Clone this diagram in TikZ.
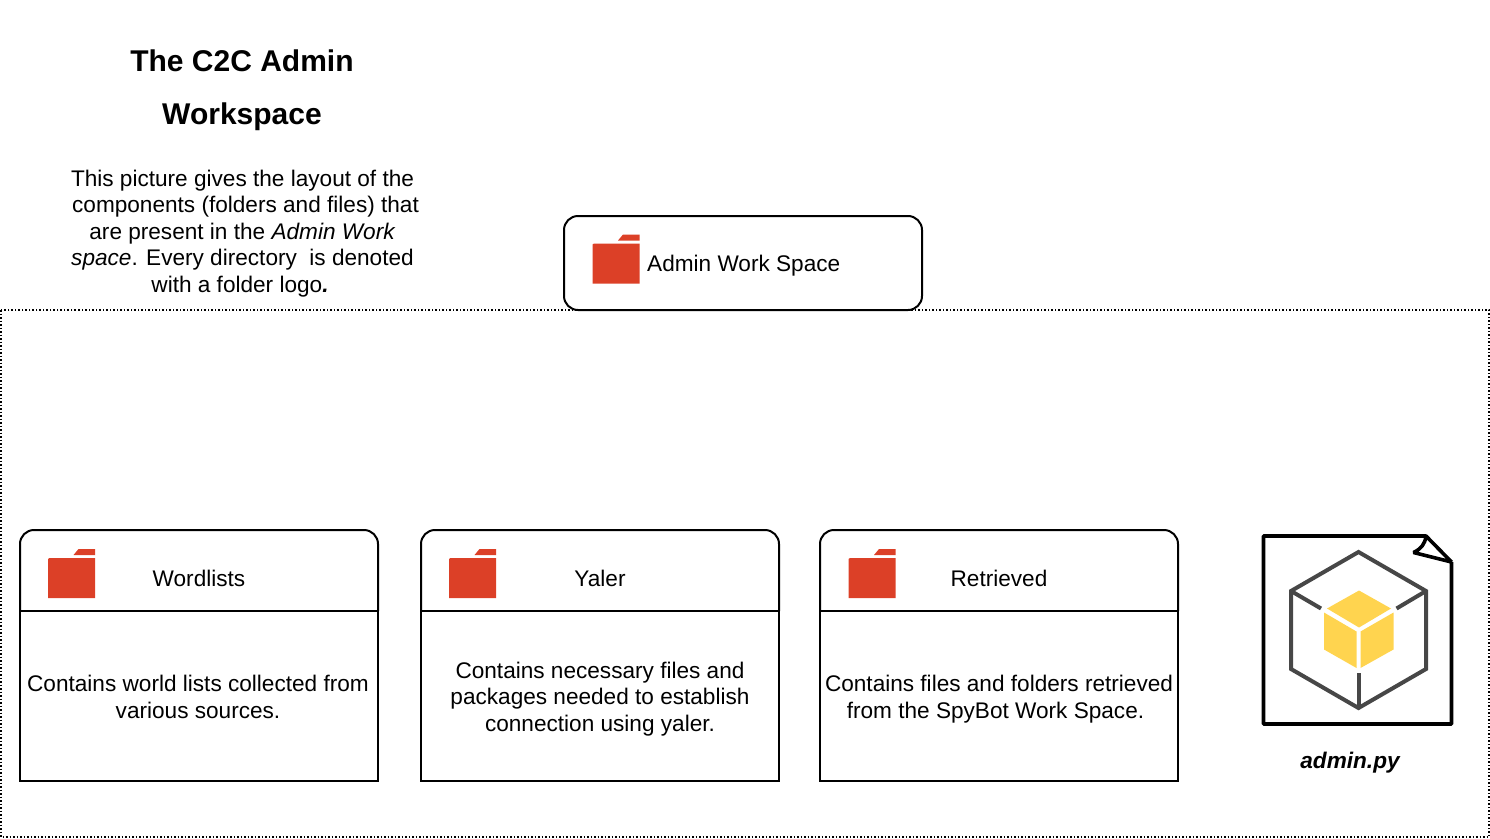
\documentclass[tikz,border=0pt]{standalone}
\usepackage{fontspec}
\setmainfont{Liberation Sans}
\usetikzlibrary{positioning}
\definecolor{fldred}{HTML}{DC4027}
\definecolor{cubegray}{HTML}{474747}
\definecolor{cubeyellow}{HTML}{FFD44F}
\tikzset{
  folder/.pic={
    \fill[fldred] (25.5,6) -- (30.5,0) -- (47,0) -- (47,6) -- cycle;
    \fill[fldred] (0,10) -- (1.5,9) -- (47,9) -- (47,49) -- (0,49) -- cycle;
  }
}
\begin{document}
\begin{tikzpicture}[x=1pt,y=-1pt,
    txt/.style={align=center,inner sep=0pt,font=\fontsize{22.6}{26.4}\selectfont},
    head/.style={txt,outer sep=0pt,minimum width=358pt,minimum height=81pt,text height=31pt,text depth=0pt},
    body/.style={draw,line width=2pt,outer sep=0pt,minimum width=358pt,minimum height=170pt,anchor=north west},
    lane/.style={draw,line width=2pt,rounded corners=14pt},
    cube/.style={draw=cubegray,line width=4pt,line join=miter},
    title/.style={inner sep=0pt,font=\fontsize{30}{36}\selectfont\bfseries}]
  \useasboundingbox (0,0) rectangle (1490,838);
  \node[title] (ttl1) at (242,61) {The C2C Admin};
  \node[title] (ttl2) at (242,117) {Workspace};
  \node[txt] (intro) at (242.5,233.5) {This picture gives the layout of the\\
    \hspace{6pt}components (folders and files) that\\
    are present in the \textit{Admin Work}\\
    {\itshape space}. Every directory\ \ is denoted\\
    with a folder logo\textbf{\textit{.}}\hspace*{5pt}};
  % outer work space
  \draw[line width=1.5pt,dotted] (1,310) rectangle (1489,837);
  \node[draw,fill=white,line width=2pt,outer sep=0pt,rounded corners=14pt,minimum width=358pt,minimum height=94pt,anchor=north west] (admin) at (564,216) {};
  \pic at (592.5,234.5) {folder};
  \node[txt,anchor=west] (adminlbl) at (647,266) {Admin Work Space};
  % folders
  \node[body] (wlbody) at (20,611) {};
  \node[txt] (wltext) at ([yshift=-1pt]wlbody) {Contains world lists collected from\hspace*{2pt}\\various sources.\hspace*{2pt}};
  \node[head,above=0pt of wlbody] (wlhead) {Wordlists};
  \draw[lane] (wlbody.north west) |- (wlhead.north) -| (wlbody.north east);
  \pic at (48,549) {folder};
  \node[body] (yabody) at (421,611) {};
  \node[txt] (yatext) at ([yshift=-3pt]yabody) {Contains necessary files and\\packages needed to establish\\connection using yaler.};
  \node[head,above=0pt of yabody] (yahead) {Yaler};
  \draw[lane] (yabody.north west) |- (yahead.north) -| (yabody.north east);
  \pic at (449,549) {folder};
  \node[body] (rtbody) at (820,611) {};
  \node[txt] (rttext) at ([yshift=-3pt]rtbody) {Contains files and folders retrieved\\from the SpyBot Work Space.\hspace*{7pt}};
  \node[head,above=0pt of rtbody] (rthead) {Retrieved};
  \draw[lane] (rtbody.north west) |- (rthead.north) -| (rtbody.north east);
  \pic at (848.5,549) {folder};
  % python file
  \draw[line width=3.6pt,line join=bevel] (1451.5,562) -- (1451.5,724) -- (1263.5,724) -- (1263.5,536) -- (1426,536) -- (1451.5,562)
    -- (1413.5,552.5) .. controls (1421,549) and (1425,544) .. (1426,536);
  \draw[cube] (1358.5,552) -- (1426,591) -- (1426,669) -- (1358.5,708) -- (1291,669) -- (1291,591) -- cycle;
  \draw[cube] (1291,591) -- (1321,608.5);
  \draw[cube] (1426,591) -- (1396.5,608.5);
  \draw[cube] (1358.5,708) -- (1358.5,673);
  \fill[cubeyellow] (1359,590.5) -- (1391,608.5) -- (1359,627.5) -- (1327,608.5) -- cycle;
  \fill[cubeyellow] (1324,612.5) -- (1356.5,631.5) -- (1356.5,668) -- (1324,649.5) -- cycle;
  \fill[cubeyellow] (1360.5,631.5) -- (1393.5,612.5) -- (1393.5,649.5) -- (1360.5,668) -- cycle;
  \node[txt,font=\fontsize{22.6}{26.4}\selectfont\bfseries\itshape] (fname) at (1350,763) {admin.py};
\end{tikzpicture}
\end{document}
